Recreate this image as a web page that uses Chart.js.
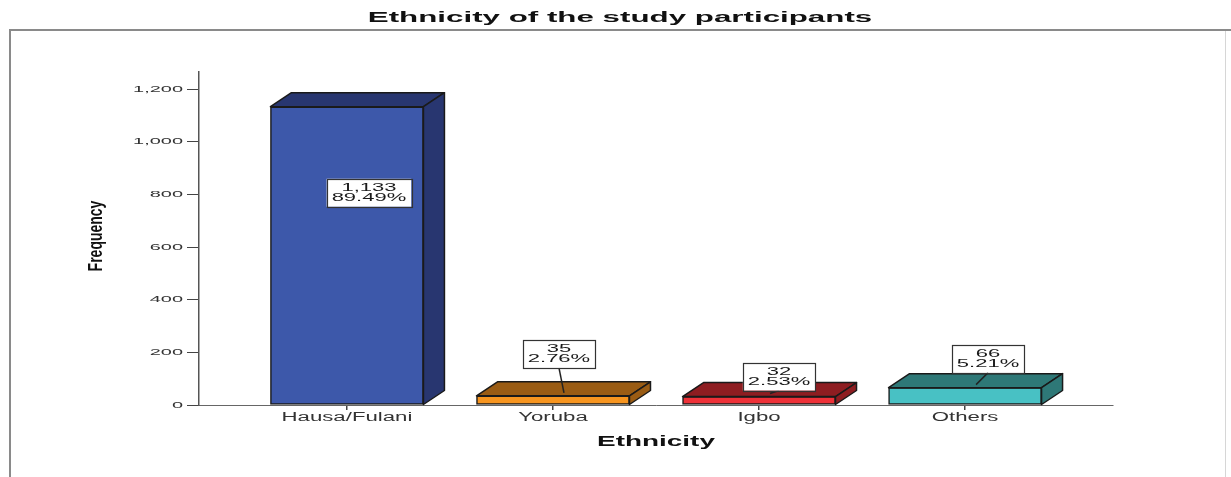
<!DOCTYPE html>
<html>
<head>
<meta charset="utf-8">
<script src="https://cdn.jsdelivr.net/npm/chart.js@4/dist/chart.umd.min.js"></script>
<style>
  body { margin: 0; background: #fff; }
  #wrap { position: relative; width: 1231px; height: 477px; }
</style>
</head>
<body>
<div id="wrap"><canvas id="ethChart"></canvas></div>
<script>
const categories = ['Hausa/Fulani', 'Yoruba', 'Igbo', 'Others'];
const counts = [1133, 35, 32, 66];
const yTicks = [0, 200, 400, 600, 800, 1000, 1200];

const frontColors = ['#3d58aa', '#f7951f', '#ee3138', '#48c1c4'];
const depthColors = ['#283670', '#9a5c14', '#8e1d21', '#2e7877'];

const total = counts.reduce((a, b) => a + b, 0);
const FONT = "Arial, 'Liberation Sans', sans-serif";

// text in the reference is stretched sideways, so draw it scaled on x
function stretchText(ctx, text, x, y, font, sx, align, color, rot) {
  ctx.save();
  ctx.translate(x, y);
  ctx.scale(sx, 1);
  if (rot) ctx.rotate(rot);
  ctx.font = font;
  ctx.fillStyle = color || '#1a1a1a';
  ctx.textAlign = align || 'center';
  ctx.textBaseline = 'middle';
  ctx.fillText(text, 0, 0);
  ctx.restore();
}

const spssPlugin = {
  id: 'spss3d',
  afterDatasetsDraw(chart, args, opts) {
    const ctx = chart.ctx;
    const meta = chart.getDatasetMeta(0);
    const dx = opts.depthX, dy = opts.depthY;

    meta.data.forEach((bar, i) => {
      const left = bar.x - bar.width / 2;
      const right = bar.x + bar.width / 2;
      const top = bar.y;
      const base = bar.base;
      ctx.save();
      ctx.lineWidth = 1.5;
      ctx.strokeStyle = '#1a1a1a';
      ctx.lineJoin = 'round';
      ctx.fillStyle = depthColors[i];
      // top face
      ctx.beginPath();
      ctx.moveTo(left, top);
      ctx.lineTo(left + dx, top + dy);
      ctx.lineTo(right + dx, top + dy);
      ctx.lineTo(right, top);
      ctx.closePath();
      ctx.fill();
      ctx.stroke();
      // side face
      ctx.beginPath();
      ctx.moveTo(right, top);
      ctx.lineTo(right + dx, top + dy);
      ctx.lineTo(right + dx, base + dy);
      ctx.lineTo(right, base);
      ctx.closePath();
      ctx.fill();
      ctx.stroke();
      ctx.restore();
    });

    // value / percent boxes
    meta.data.forEach((bar, i) => {
      const off = opts.labelOffsets[i];
      const cx = bar.x + off[0];
      const cy = bar.y + off[1];
      const line1 = counts[i].toLocaleString('en-US');
      const line2 = (counts[i] / total * 100).toFixed(2) + '%';
      ctx.save();
      ctx.font = '11px ' + FONT;
      const tw = Math.max(ctx.measureText(line1).width, ctx.measureText(line2).width) * opts.labelStretch;
      const bw = tw + 10, bh = 28;
      if (off[1] < 0) {
        ctx.strokeStyle = '#222';
        ctx.lineWidth = 1.5;
        ctx.beginPath();
        ctx.moveTo(cx, cy + bh / 2);
        ctx.lineTo(bar.x + 11, bar.y - 3);
        ctx.stroke();
      }
      ctx.fillStyle = '#fff';
      ctx.fillRect(cx - bw / 2, cy - bh / 2, bw, bh);
      ctx.strokeStyle = '#333';
      ctx.lineWidth = 1.2;
      ctx.strokeRect(Math.round(cx - bw / 2) + 0.5, Math.round(cy - bh / 2) + 0.5, Math.round(bw), bh);
      ctx.restore();
      stretchText(ctx, line1, cx, cy - 5, '11px ' + FONT, opts.labelStretch, 'center', '#1a1a1a');
      stretchText(ctx, line2, cx, cy + 5, '11px ' + FONT, opts.labelStretch, 'center', '#1a1a1a');
    });
  },
  afterDraw(chart) {
    const ctx = chart.ctx;
    const ys = chart.scales.y, xs = chart.scales.x;
    const area = chart.chartArea;

    // outer frame
    ctx.save();
    ctx.strokeStyle = '#8a8a8a';
    ctx.lineWidth = 2;
    ctx.beginPath();
    ctx.moveTo(10, 477);
    ctx.lineTo(10, 30);
    ctx.lineTo(1231, 30);
    ctx.stroke();
    ctx.strokeStyle = '#d6d6d6';
    ctx.lineWidth = 1;
    ctx.beginPath();
    ctx.moveTo(1225.5, 31);
    ctx.lineTo(1225.5, 477);
    ctx.stroke();
    ctx.restore();

    // title
    stretchText(ctx, 'Ethnicity of the study participants', 620, 18, 'bold 15.5px ' + FONT, 2.02, 'center', '#111');

    // y tick labels
    ys.ticks.forEach(t => {
      stretchText(ctx, t.value.toLocaleString('en-US'), area.left - 16, ys.getPixelForValue(t.value),
        '9.5px ' + FONT, 2.1, 'right', '#333');
    });
    // x tick labels
    xs.ticks.forEach(t => {
      stretchText(ctx, categories[t.value], xs.getPixelForValue(t.value), 418,
        '12px ' + FONT, 1.85, 'center', '#333');
    });

    // axis titles
    stretchText(ctx, 'Ethnicity', (area.left + area.right) / 2, 442, 'bold 15px ' + FONT, 1.86, 'center', '#111');
    stretchText(ctx, 'Frequency', 97, 236, 'bold 14px ' + FONT, 1.4, 'center', '#111', -Math.PI / 2);
  }
};

new Chart(document.getElementById('ethChart'), {
  type: 'bar',
  data: {
    datasets: [{
      data: categories.map((c, i) => ({ x: i, y: counts[i] })),
      backgroundColor: frontColors,
      borderColor: '#1a1a1a',
      borderWidth: 1.5,
      borderSkipped: false,
      barThickness: 153
    }]
  },
  options: {
    responsive: true,
    maintainAspectRatio: false,
    animation: false,
    layout: { padding: { top: 72, right: 118, left: 0, bottom: 0 } },
    plugins: {
      legend: { display: false },
      tooltip: { enabled: false },
      spss3d: {
        depthX: 21,
        depthY: -14,
        labelStretch: 2.0,
        labelOffsets: [[22, 86], [6, -42], [20, -20], [23, -29]]
      }
    },
    scales: {
      x: {
        type: 'linear',
        offset: false,
        min: -0.718,
        max: 3.718,
        afterBuildTicks: s => { s.ticks = categories.map((c, i) => ({ value: i })); },
        afterFit: s => { s.height = 72; },
        ticks: { display: false },
        grid: { offset: false, drawOnChartArea: false, drawTicks: true, tickLength: 5, color: '#444', lineWidth: 1.5 },
        border: { display: true, color: '#666', width: 1 }
      },
      y: {
        min: 0,
        max: 1265,
        afterBuildTicks: s => { s.ticks = yTicks.map(v => ({ value: v })); },
        afterFit: s => { s.width = 199; },
        ticks: { display: false },
        grid: { drawOnChartArea: false, drawTicks: true, tickLength: 12, color: '#444', lineWidth: 1 },
        border: { display: true, color: '#555', width: 1.5 }
      }
    }
  },
  plugins: [spssPlugin]
});
</script>
</body>
</html>
